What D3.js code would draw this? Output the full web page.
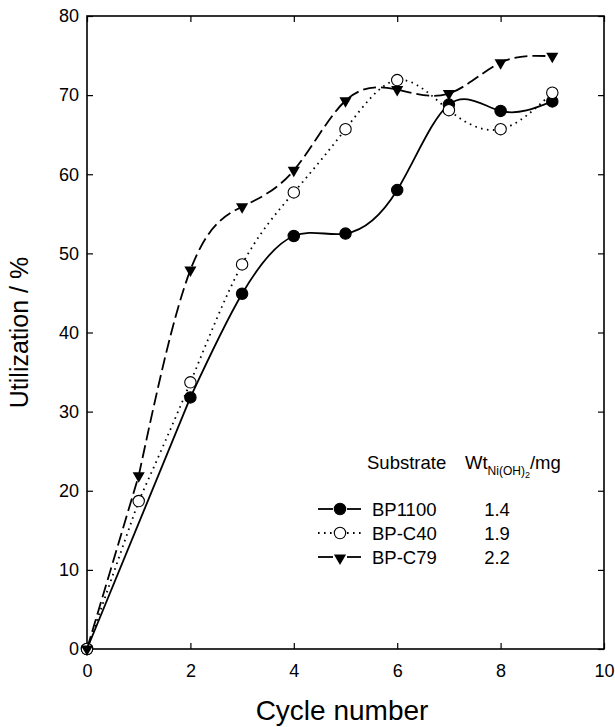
<!DOCTYPE html>
<html>
<head>
<meta charset="utf-8">
<script src="https://cdn.jsdelivr.net/npm/d3@7"></script>
<style>
  body { margin: 0; background: #fff; }
  text { font-family: "Liberation Sans", Arial, sans-serif; fill: #000; }
</style>
</head>
<body>
<div id="chart"></div>
<script>
// values
const bp1100Cycles = [0, 2, 3, 4, 5, 6, 7, 8, 9];
const bp1100Util   = [0, 31.8, 44.9, 52.2, 52.5, 58.0, 68.8, 68.0, 69.2];
const bpC40Cycles  = [0, 1, 2, 3, 4, 5, 6, 7, 8, 9];
const bpC40Util    = [0, 18.7, 33.7, 48.6, 57.7, 65.7, 71.9, 68.1, 65.7, 70.3];
const bpC79Cycles  = [0, 1, 2, 3, 4, 5, 6, 7, 8, 9];
const bpC79Util    = [0, 21.9, 47.9, 55.9, 60.5, 69.3, 70.7, 70.2, 74.1, 74.9];

const seriesNames = ["BP1100", "BP-C40", "BP-C79"];
const weights     = ["1.4", "1.9", "2.2"];

const xTicks = [0, 2, 4, 6, 8, 10];
const yTicks = [0, 10, 20, 30, 40, 50, 60, 70, 80];

const width = 615, height = 727;
const margin = { top: 16, right: 11, bottom: 78, left: 87 };

const svg = d3.select("#chart").append("svg")
  .attr("width", width)
  .attr("height", height);

const x = d3.scaleLinear().domain([0, 10]).range([margin.left, width - margin.right]);
const y = d3.scaleLinear().domain([0, 80]).range([height - margin.bottom, margin.top]);

const series = [
  { name: seriesNames[0], weight: weights[0], cycles: bp1100Cycles, values: bp1100Util,
    dash: null, marker: "filled" },
  { name: seriesNames[1], weight: weights[1], cycles: bpC40Cycles, values: bpC40Util,
    dash: "1.6,4.4", marker: "open" },
  { name: seriesNames[2], weight: weights[2], cycles: bpC79Cycles, values: bpC79Util,
    dash: "13,5", marker: "triangle" }
];

// frame + inward ticks on all four sides
const tickLen = 6;
svg.append("rect")
  .attr("x", x(0)).attr("y", y(80))
  .attr("width", x(10) - x(0)).attr("height", y(0) - y(80))
  .attr("fill", "none").attr("stroke", "#000").attr("stroke-width", 1.6);

const axisLayer = svg.append("g");
axisLayer.append("g")
  .attr("transform", "translate(0," + y(0) + ")")
  .call(d3.axisBottom(x).tickValues(xTicks).tickSizeInner(-tickLen).tickSizeOuter(0).tickPadding(15))
  .call(styleAxis);
axisLayer.append("g")
  .attr("transform", "translate(0," + y(80) + ")")
  .call(d3.axisTop(x).tickValues(xTicks).tickSizeInner(-tickLen).tickSizeOuter(0).tickFormat(""))
  .call(styleAxis);
axisLayer.append("g")
  .attr("transform", "translate(" + x(0) + ",0)")
  .call(d3.axisLeft(y).tickValues(yTicks).tickSizeInner(-tickLen).tickSizeOuter(0).tickPadding(8))
  .call(styleAxis);
axisLayer.append("g")
  .attr("transform", "translate(" + x(10) + ",0)")
  .call(d3.axisRight(y).tickValues(yTicks).tickSizeInner(-tickLen).tickSizeOuter(0).tickFormat(""))
  .call(styleAxis);

function styleAxis(layer) {
  layer.select(".domain").remove();
  layer.selectAll(".tick line").attr("stroke", "#000").attr("stroke-width", 1.2);
  layer.selectAll(".tick text")
    .style("font-family", "'Liberation Sans', Arial, sans-serif")
    .style("font-size", "18px")
    .attr("fill", "#000");
}

// axis titles
svg.append("text")
  .attr("x", 342)
  .attr("y", 720)
  .attr("text-anchor", "middle")
  .style("font-size", "28px")
  .text("Cycle number");
svg.append("text")
  .attr("transform", "translate(28," + ((y(0) + y(80)) / 2) + ") rotate(-90)")
  .attr("text-anchor", "middle")
  .style("font-size", "25px")
  .text("Utilization / %");

// straight segment from the origin, spline through the rest
const spline = d3.line().x(d => x(d.c)).y(d => y(d.v)).curve(d3.curveNatural);
const straight = d3.line().x(d => x(d.c)).y(d => y(d.v));

const triangle = d3.symbol().type(d3.symbolTriangle).size(64);

series.forEach(function (s) {
  const pts = s.cycles.map((c, i) => ({ c: c, v: s.values[i] }));
  const g = svg.append("g");

  g.append("path")
    .attr("d", straight(pts.slice(0, 2)))
    .attr("fill", "none").attr("stroke", "#000").attr("stroke-width", 1.8)
    .attr("stroke-dasharray", s.dash);
  g.append("path")
    .attr("d", spline(pts.slice(1)))
    .attr("fill", "none").attr("stroke", "#000").attr("stroke-width", 1.8)
    .attr("stroke-dasharray", s.dash);

  drawMarkers(g, pts, s.marker);
});

function drawMarkers(g, pts, kind) {
  if (kind === "triangle") {
    g.selectAll(".mk").data(pts).enter().append("path")
      .attr("d", triangle)
      .attr("transform", d => "translate(" + x(d.c) + "," + y(d.v) + ") rotate(180)")
      .attr("fill", "#000");
  } else {
    g.selectAll(".mk").data(pts).enter().append("circle")
      .attr("cx", d => x(d.c)).attr("cy", d => y(d.v))
      .attr("r", 5.7)
      .attr("fill", kind === "filled" ? "#000" : "#fff")
      .attr("stroke", "#000").attr("stroke-width", 1.1);
  }
}

// legend
const legend = svg.append("g");
legend.append("text")
  .attr("x", 367).attr("y", 469)
  .style("font-size", "18.5px")
  .text("Substrate");
const wt = legend.append("text")
  .attr("x", 465).attr("y", 469)
  .style("font-size", "18.5px");
wt.append("tspan").text("Wt");
wt.append("tspan").attr("dy", 6).style("font-size", "12px").text("Ni(OH)");
wt.append("tspan").attr("dy", 3).style("font-size", "9px").text("2");
wt.append("tspan").attr("dy", -9).text("/mg");

const rows = legend.selectAll(".row").data(series).enter().append("g")
  .attr("transform", (d, i) => "translate(0," + [509, 533, 557][i] + ")");
rows.append("line")
  .attr("x1", 318).attr("x2", 333)
  .attr("stroke", "#000").attr("stroke-width", 1.8)
  .attr("stroke-dasharray", d => d.dash === "13,5" ? null : d.dash);
rows.append("line")
  .attr("x1", 347).attr("x2", 361)
  .attr("stroke", "#000").attr("stroke-width", 1.8)
  .attr("stroke-dasharray", d => d.dash === "13,5" ? null : d.dash);
rows.each(function (d) {
  const r = d3.select(this);
  if (d.marker === "triangle") {
    r.append("path").attr("d", triangle).attr("transform", "translate(340,1) rotate(180)").attr("fill", "#000");
  } else {
    r.append("circle").attr("cx", 340).attr("r", 5.7)
      .attr("fill", d.marker === "filled" ? "#000" : "#fff")
      .attr("stroke", "#000").attr("stroke-width", 1.1);
  }
});
rows.append("text")
  .attr("x", 372).attr("dy", "0.36em")
  .style("font-size", "18.5px")
  .text(d => d.name);
rows.append("text")
  .attr("x", 497).attr("dy", "0.36em")
  .attr("text-anchor", "middle")
  .style("font-size", "18.5px")
  .text(d => d.weight);
</script>
</body>
</html>
